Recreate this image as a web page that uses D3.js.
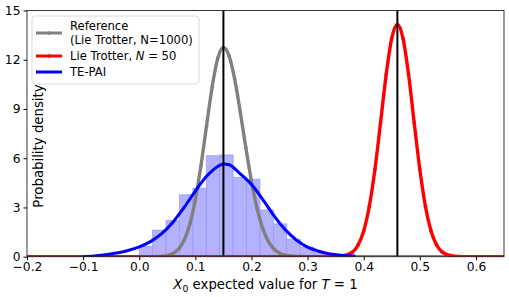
<!DOCTYPE html>
<html>
<head>
<meta charset="utf-8">
<title>X0 expected value</title>
<script src="https://d3js.org/d3.v7.min.js"></script>
<style>
  body { margin: 0; background: #fff; }
  text { font-family: "DejaVu Sans", sans-serif; fill: #000; }
</style>
</head>
<body>
<svg id="chart"></svg>
<script>
// values
var xTicks = [-0.2, -0.1, 0.0, 0.1, 0.2, 0.3, 0.4, 0.5, 0.6]
var yTicks = [0, 3, 6, 9, 12, 15]
var vlines = [0.15, 0.46]

// histogram of TE-PAI samples: left edges and density
var binWidth = 0.0239
var binStart = [0.0, 0.0239, 0.0478, 0.0717, 0.0956, 0.1195, 0.1434, 0.1673, 0.1912, 0.2151, 0.239, 0.2629, 0.2868, 0.3107]
var binDensity = [0.63, 1.62, 2.2, 3.77, 4.18, 6.15, 6.2, 4.84, 4.72, 2.85, 2.0, 1.07, 0.59, 0.25]

// reference (Lie Trotter N=1000)
var refX = [-0.2, 0.0, 0.04, 0.055, 0.07, 0.08, 0.09, 0.1, 0.11, 0.12, 0.13, 0.14, 0.15, 0.16, 0.17, 0.18, 0.19, 0.2, 0.21, 0.22, 0.23, 0.24, 0.25, 0.26, 0.28, 0.3, 0.65]
var refY = [0, 0, 0.02, 0.12, 0.46, 1.0, 1.96, 3.47, 5.55, 7.98, 10.36, 12.1, 12.75, 12.24, 10.83, 8.83, 6.64, 4.6, 2.93, 1.73, 0.94, 0.47, 0.22, 0.09, 0.01, 0, 0]

// Lie Trotter N=50
var lieX = [-0.2, 0.34, 0.36, 0.38, 0.39, 0.4, 0.41, 0.42, 0.43, 0.44, 0.45, 0.46, 0.47, 0.48, 0.49, 0.5, 0.51, 0.52, 0.53, 0.54, 0.56, 0.58, 0.65]
var lieY = [0, 0, 0.03, 0.28, 0.71, 1.57, 3.07, 5.32, 8.16, 11.08, 13.31, 14.15, 13.31, 11.08, 8.16, 5.32, 3.07, 1.57, 0.71, 0.28, 0.03, 0, 0]

// TE-PAI
var tepX = [-0.1, -0.08, -0.06, -0.04, -0.02, 0.0, 0.02, 0.04, 0.06, 0.08, 0.1, 0.12, 0.14, 0.15, 0.16, 0.18, 0.2, 0.22, 0.24, 0.26, 0.28, 0.3, 0.32, 0.34, 0.36, 0.385]
var tepY = [0.0, 0.05, 0.12, 0.22, 0.38, 0.6, 0.92, 1.4, 2.1, 3.0, 4.0, 4.9, 5.5, 5.65, 5.6, 5.05, 4.4, 3.5, 2.5, 1.65, 1.02, 0.58, 0.33, 0.17, 0.09, 0.04]

var W = 509, H = 297
var plotL = 27, plotR = 504, plotT = 10.5, plotB = 256.7

var svg = d3.select('#chart').attr('width', W).attr('height', H)

var x = d3.scaleLinear().domain([-0.2, 0.65]).range([plotL, plotR])
var y = d3.scaleLinear().domain([0, 15]).range([plotB, plotT])

svg.append('defs').append('clipPath').attr('id', 'clip')
    .append('rect').attr('x', plotL).attr('y', plotT)
    .attr('width', plotR - plotL).attr('height', plotB - plotT)

var plot = svg.append('g').attr('clip-path', 'url(#clip)')

// histogram
plot.selectAll('rect.bin').data(binStart).enter().append('rect')
    .attr('class', 'bin')
    .attr('x', d => x(d))
    .attr('width', d => x(d + binWidth) - x(d))
    .attr('y', (d, i) => y(binDensity[i]))
    .attr('height', (d, i) => y(0) - y(binDensity[i]))
    .style('fill', 'rgb(178,178,255)')
    .style('stroke', 'rgb(150,150,250)')
    .style('stroke-width', 0.7)

var line = d3.line()
    .x(d => x(d[0]))
    .y(d => y(d[1]))
    .curve(d3.curveMonotoneX)

function drawSeries(xs, ys, color, markers) {
    var pts = xs.map((v, i) => [v, ys[i]])
    plot.append('path').datum(pts)
        .attr('d', line)
        .style('fill', 'none')
        .style('stroke', color)
        .style('stroke-width', markers ? 3.4 : 3)
        .style('stroke-linejoin', 'round')
    if (markers) {
        plot.append('g').selectAll('circle').data(pts).enter().append('circle')
            .attr('cx', d => x(d[0]))
            .attr('cy', d => y(d[1]))
            .attr('r', 1.8)
            .style('fill', color)
    }
}

drawSeries(refX, refY, 'gray', true)
drawSeries(lieX, lieY, 'red', true)
drawSeries(tepX, tepY, 'blue', false)

plot.selectAll('line.v').data(vlines).enter().append('line')
    .attr('x1', d => x(d)).attr('x2', d => x(d))
    .attr('y1', plotT).attr('y2', plotB)
    .style('stroke', '#000').style('stroke-width', 2)

// frame
svg.append('rect')
    .attr('x', plotL).attr('y', plotT)
    .attr('width', plotR - plotL).attr('height', plotB - plotT)
    .style('fill', 'none').style('stroke', '#222').style('stroke-width', 0.9)

// axes
var xAxis = d3.axisBottom(x).tickValues(xTicks).tickSize(3.5).tickPadding(2.5)
    .tickFormat(d => d3.format('.1f')(d).replace('-', '\u2212'))
var gx = svg.append('g').attr('transform', `translate(0,${plotB})`).call(xAxis)
gx.select('.domain').remove()
gx.selectAll('text').style('font-size', '12.3px').style('font-family', '"DejaVu Sans", sans-serif')

var yAxis = d3.axisLeft(y).tickValues(yTicks).tickSize(3.5).tickPadding(3)
var gy = svg.append('g').attr('transform', `translate(${plotL},0)`).call(yAxis)
gy.select('.domain').remove()
gy.selectAll('text').style('font-size', '12.3px').style('font-family', '"DejaVu Sans", sans-serif')

// axis labels
var xl = svg.append('text')
    .attr('x', (plotL + plotR) / 2).attr('y', 289)
    .attr('text-anchor', 'middle')
    .style('font-size', '13.3px')
xl.append('tspan').style('font-style', 'italic').text('X')
xl.append('tspan').attr('dy', 3).style('font-size', '9.3px').text('0')
xl.append('tspan').attr('dy', -3).text(' expected value for ')
xl.append('tspan').style('font-style', 'italic').text('T')
xl.append('tspan').text(' = 1')

svg.append('text')
    .attr('transform', 'translate(43,146) rotate(-90)')
    .attr('text-anchor', 'middle')
    .style('font-size', '13.3px')
    .text('Probability density')

// legend
var lg = svg.append('g')
lg.append('rect')
    .attr('x', 32).attr('y', 16).attr('width', 167).attr('height', 68).attr('rx', 3)
    .style('fill', 'rgba(255,255,255,0.8)').style('stroke', '#d0d0d0').style('stroke-width', 0.8)

var legendItems = [
    { color: 'gray', y: 33, marker: true },
    { color: 'red', y: 56, marker: true },
    { color: 'blue', y: 72, marker: false }
]
legendItems.forEach(function (it) {
    lg.append('line').attr('x1', 36).attr('x2', 62).attr('y1', it.y).attr('y2', it.y)
        .style('stroke', it.color).style('stroke-width', 3)
    if (it.marker)
        lg.append('circle').attr('cx', 49).attr('cy', it.y).attr('r', 1.8).style('fill', it.color)
})

var fs = '11.6px'
lg.append('text').attr('x', 70).attr('y', 30).style('font-size', fs).text('Reference')
lg.append('text').attr('x', 70).attr('y', 43.5).style('font-size', fs).text('(Lie Trotter, N=1000)')
var t2 = lg.append('text').attr('x', 70).attr('y', 60).style('font-size', fs)
t2.append('tspan').text('Lie Trotter, ')
t2.append('tspan').style('font-style', 'italic').text('N')
t2.append('tspan').text(' = 50')
lg.append('text').attr('x', 70).attr('y', 76).style('font-size', fs).text('TE-PAI')
</script>
</body>
</html>
